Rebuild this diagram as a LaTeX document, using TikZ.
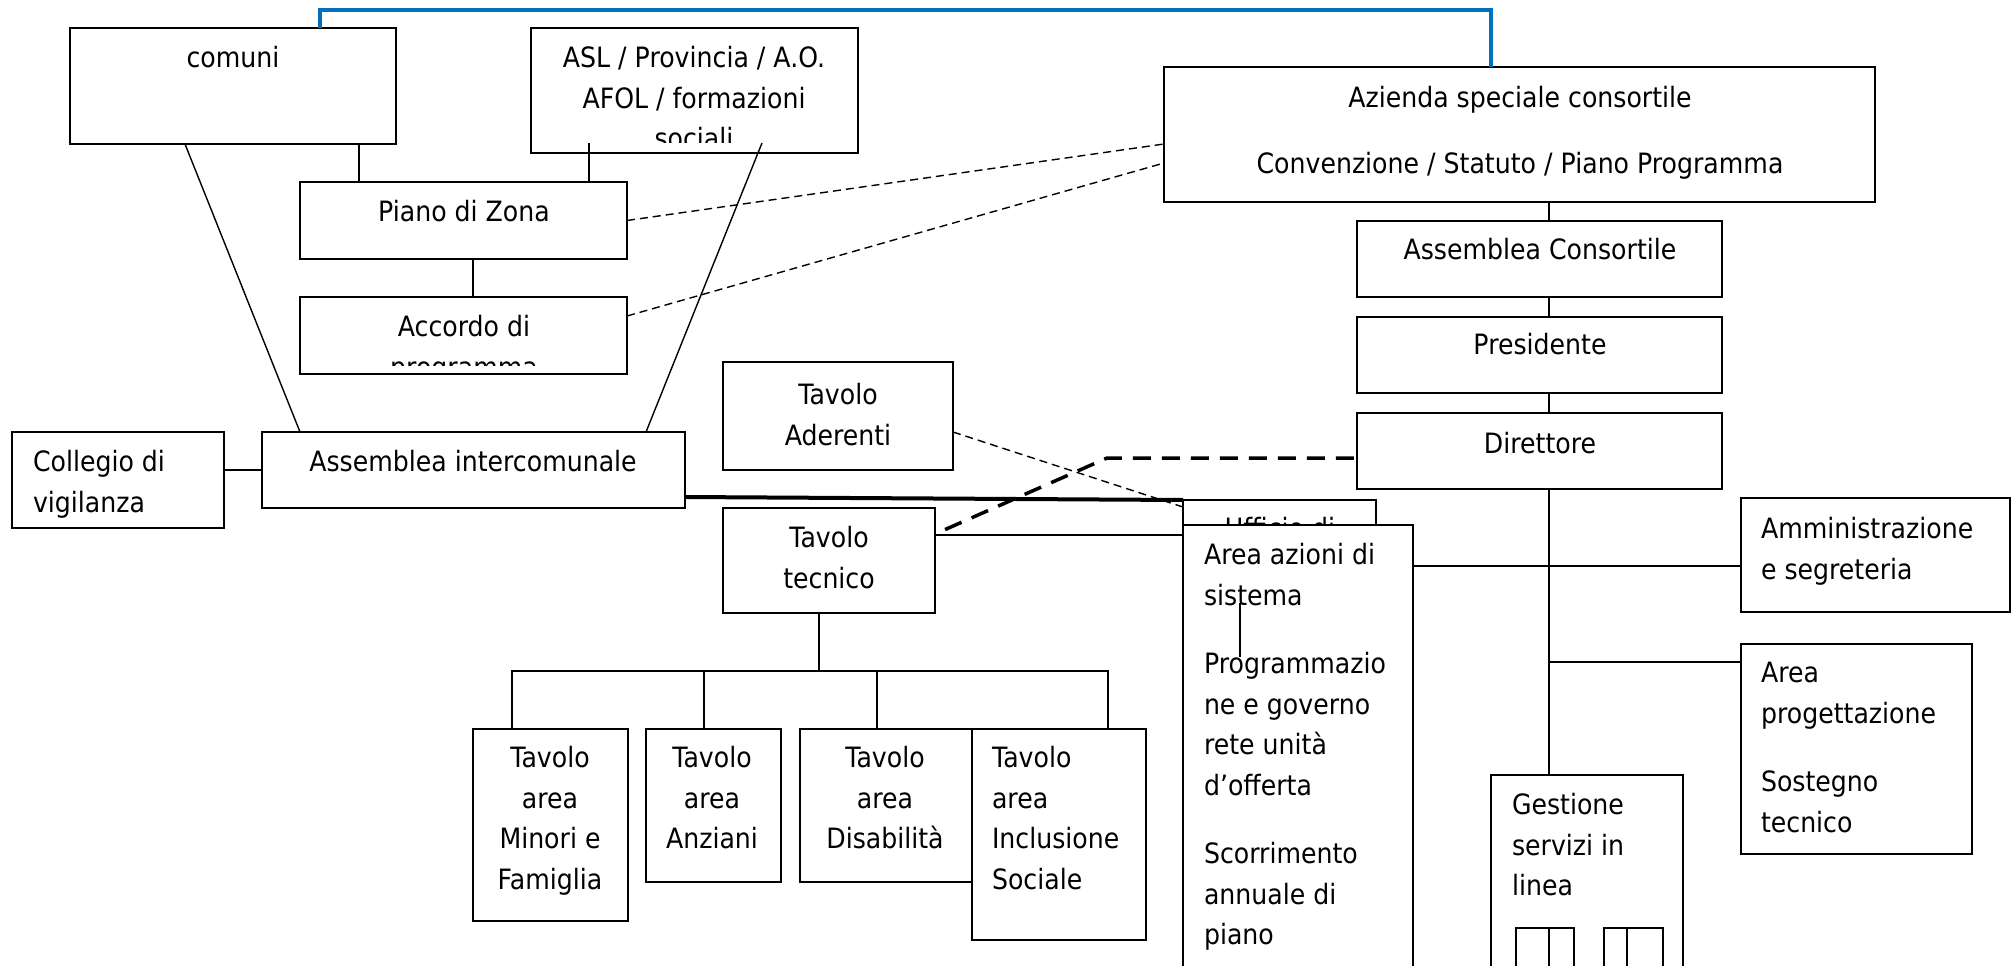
\documentclass[tikz,border=0pt]{standalone}
\usepackage{fontspec}
\setmainfont{DejaVu Sans}[FakeStretch=0.9]
\definecolor{linkcolor}{RGB}{0,112,192}
\newcommand\boxtext{\fontsize{28pt}{40.5pt}\selectfont}
% box: name, left, top, width, height (picture units are pixels, y downwards)
\newcommand\mkbox[5]{\node[box,anchor=north west,minimum width=#4pt,minimum height=#5pt] (#1) at (#2,#3) {};}
\tikzset{
  box/.style={draw, line width=1.8pt, fill=white, inner sep=0pt, outer sep=0pt},
  txt/.style={inner sep=0pt, outer sep=0pt, font=\boxtext},
  ctxt/.style={txt, anchor=north, align=center},
  ltxt/.style={txt, anchor=north west, align=left},
  conn/.style={line width=1.4pt},
  thinDash/.style={line width=1.4pt, dash pattern=on 8pt off 5pt},
  bigDash/.style={line width=3.5pt, dash pattern=on 18pt off 11pt, dash phase=18pt},
  heavy/.style={line width=4pt},
  linkblue/.style={line width=4.5pt, draw=linkcolor},
}
\begin{document}
\begin{tikzpicture}[x=1pt,y=-1pt]
\useasboundingbox (0,0) rectangle (2015,966);
\clip (0,0) rectangle (2015,966);

% ---- zone governance (left) ----
\mkbox{comuni}{70}{28}{326}{116}
\node[ctxt] (comuni-t) at (233,39.6) {\strut comuni};

\mkbox{asl}{531}{28}{327}{125}
\begin{scope}
  \clip (531,28) rectangle (858,142);
  \node[ctxt] (asl-t) at (694,39.6) {\strut ASL / Provincia / A.O.\\AFOL / formazioni\\sociali};
\end{scope}

\mkbox{piano}{300}{182}{327}{77}
\node[ctxt] (piano-t) at (464,193.6) {\strut Piano di Zona};

\mkbox{accordo}{300}{297}{327}{77}
\begin{scope}
  \clip (300,297) rectangle (627,365);
  \node[ctxt] (accordo-t) at (464,308.6) {\strut Accordo di\\programma};
\end{scope}

\mkbox{collegio}{12}{432}{212}{96}
\node[ltxt] (collegio-t) at (33,443.6) {\strut Collegio di\\vigilanza};

\mkbox{assint}{262}{432}{423}{76}
\node[ctxt] (assint-t) at (473,443.6) {\strut Assemblea intercomunale};

\mkbox{aderenti}{723}{362}{230}{108}
\node[ctxt] (aderenti-t) at (838,376.6) {\strut Tavolo\\Aderenti};

\mkbox{tecnico}{723}{508}{212}{105}
\node[ctxt] (tecnico-t) at (829,519.6) {\strut Tavolo\\tecnico};

% ---- thematic tables ----
\mkbox{minori}{473}{729}{155}{192}
\node[ctxt] (minori-t) at (550,739.6) {\strut Tavolo\\area\\Minori e\\Famiglia};
\mkbox{anziani}{646}{729}{135}{153}
\node[ctxt] (anziani-t) at (712,739.6) {\strut Tavolo\\area\\Anziani};
\mkbox{disab}{800}{729}{172}{153}
\node[ctxt] (disab-t) at (885,739.6) {\strut Tavolo\\area\\Disabilità};
\mkbox{inclus}{972}{729}{174}{211}
\node[ltxt] (inclus-t) at (992,739.6) {\strut Tavolo\\area\\Inclusione\\Sociale};

% ---- consortium (right) ----
\mkbox{azienda}{1164}{67}{711}{135}
\node[ctxt] (azienda-t) at (1520,79.6) {\strut Azienda speciale consortile\\[25.5pt]Convenzione / Statuto / Piano Programma};

\mkbox{asscons}{1357}{221}{365}{76}
\node[ctxt] (asscons-t) at (1540,231.6) {\strut Assemblea Consortile};
\mkbox{presidente}{1357}{317}{365}{76}
\node[ctxt] (presidente-t) at (1540,326.6) {\strut Presidente};
\mkbox{direttore}{1357}{413}{365}{76}
\node[ctxt] (direttore-t) at (1540,425.6) {\strut Direttore};

\mkbox{ufficio}{1183}{500}{193}{80}
\node[ctxt] (ufficio-t) at (1280,510) {\strut Ufficio di};
\mkbox{area}{1183}{525}{230}{480}
\node[ltxt] (area-t) at (1204,536.6) {\strut Area azioni di\\sistema\\[28pt]Programmazio\\ne e governo\\rete unità\\d’offerta\\[28pt]Scorrimento\\annuale di\\piano};

\mkbox{amm}{1741}{498}{269}{114}
\node[ltxt] (amm-t) at (1761,510.6) {\strut Amministrazione\\e segreteria};
\mkbox{aprog}{1741}{644}{231}{210}
\node[ltxt] (aprog-t) at (1761,654.6) {\strut Area\\progettazione\\[28pt]Sostegno\\tecnico};

\mkbox{gestione}{1491}{775}{192}{240}
\node[ltxt] (gestione-t) at (1512,786.6) {\strut Gestione\\servizi in\\linea};
\mkbox{ga}{1516}{928}{58}{100}
\mkbox{gb}{1604}{928}{59}{100}
\draw[line width=1.8pt] (ga.north -| 1549,0) -- (ga.south -| 1549,0);
\draw[line width=1.8pt] (gb.north -| 1627,0) -- (gb.south -| 1627,0);

% ---- connectors ----
\coordinate (aslL) at (589,143);
\coordinate (aslR) at (762,143);
\draw[conn] (comuni.south -| 359,0) -- (piano.north -| 359,0);
\draw[conn] (aslL) -- (aslL |- piano.north);
\draw[conn] (piano.south -| 473,0) -- (accordo.north -| 473,0);
\draw[conn] (comuni.south -| 185,0) -- (assint.north -| 300,0);
\draw[conn] (aslR) -- (assint.north -| 646,0);
\draw[thinDash] (piano.east) -- (azienda.west |- 0,144);
\draw[thinDash] (accordo.east |- 0,316) -- (azienda.west |- 0,163);
\draw[conn] (collegio.east |- assint.west) -- (assint.west);

\draw[heavy] (assint.east |- 0,497) -- (ufficio.north west);
\draw[thinDash] (aderenti.east |- 0,432) -- (ufficio.west |- 0,507);
\draw[conn] (tecnico.east |- 0,535) -- (ufficio.west |- 0,535);
\coordinate (bend) at (1107,458);
\draw[bigDash] (tecnico.east |- 0,534) -- (bend) -- (direttore.west |- bend);

\coordinate (busL) at (512,671);
\coordinate (busR) at (1108,671);
\draw[conn] (tecnico.south -| 819,0) -- (busL -| 819,0);
\draw[conn] (minori.north -| busL) -- (busL) -- (busR) -- (inclus.north -| busR);
\draw[conn] (anziani.north -| 704,0) -- (busL -| 704,0);
\draw[conn] (disab.north -| 877,0) -- (busL -| 877,0);

\draw[conn] (azienda.south -| 1549,0) -- (asscons.north -| 1549,0);
\draw[conn] (asscons.south -| 1549,0) -- (presidente.north -| 1549,0);
\draw[conn] (presidente.south -| 1549,0) -- (direttore.north -| 1549,0);
\draw[conn] (direttore.south -| 1549,0) -- (gestione.north -| 1549,0);
\draw[conn] (area.east |- 0,566) -- (amm.west |- 0,566);
\coordinate (split) at (1549,662);
\draw[conn] (split) -- (aprog.west |- split);

\coordinate (areaA) at (1240,603);
\coordinate (areaB) at (1240,657);
\draw[conn] (areaA) -- (areaB);

\coordinate (btopL) at (320,10);
\coordinate (btopR) at (1491,10);
\draw[linkblue] (comuni.north -| btopL) -- (btopL) -- (btopR) -- (azienda.north -| btopR);
\end{tikzpicture}
\end{document}
